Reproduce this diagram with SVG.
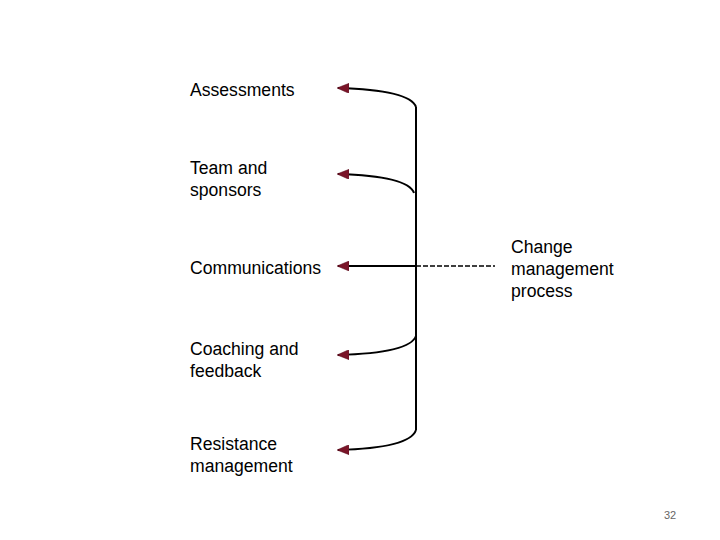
<svg xmlns="http://www.w3.org/2000/svg" width="720" height="540" viewBox="0 0 720 540">
<style>
text{font-family:"Liberation Sans",Arial,sans-serif;font-size:17.6px;fill:#000}
.c{fill:none;stroke:#000;stroke-width:2}
.d{fill:none;stroke:#000;stroke-width:1.3;stroke-dasharray:5,2}
</style>
<defs><marker id="a" markerWidth="12" markerHeight="10" refX="11" refY="5" orient="auto" markerUnits="userSpaceOnUse"><path d="M0,0 L12,5 L0,10 Z" fill="#7a1428" stroke="#5a0e1e" stroke-width="0.5"/></marker></defs>
<rect width="720" height="540" fill="#fff"/>
<g id="connectors">
<path class="c" d="M416,107 L416,430"/>
<path class="c" d="M416,107 Q410,90 338,88" marker-end="url(#a)"/>
<path class="c" d="M414,193 Q408,176 338,174" marker-end="url(#a)"/>
<path class="c" d="M416,266 L338,266" marker-end="url(#a)"/>
<path class="d" d="M416,266 L495,266"/>
<path class="c" d="M416,336 Q410,353 338,355" marker-end="url(#a)"/>
<path class="c" d="M416,430 Q410,448 338,450" marker-end="url(#a)"/>
</g>
<g id="assessments"><text x="190" y="96">Assessments</text></g>
<g id="team"><text x="190" y="174">Team and</text><text x="190" y="196">sponsors</text></g>
<g id="communications"><text x="190" y="274">Communications</text></g>
<g id="coaching"><text x="190" y="355">Coaching and</text><text x="190" y="377">feedback</text></g>
<g id="resistance"><text x="190" y="450">Resistance</text><text x="190" y="472">management</text></g>
<g id="change"><text x="511" y="253">Change</text><text x="511" y="275">management</text><text x="511" y="297">process</text></g>
<text x="664" y="519" style="font-size:11px;fill:#666">32</text>
</svg>
